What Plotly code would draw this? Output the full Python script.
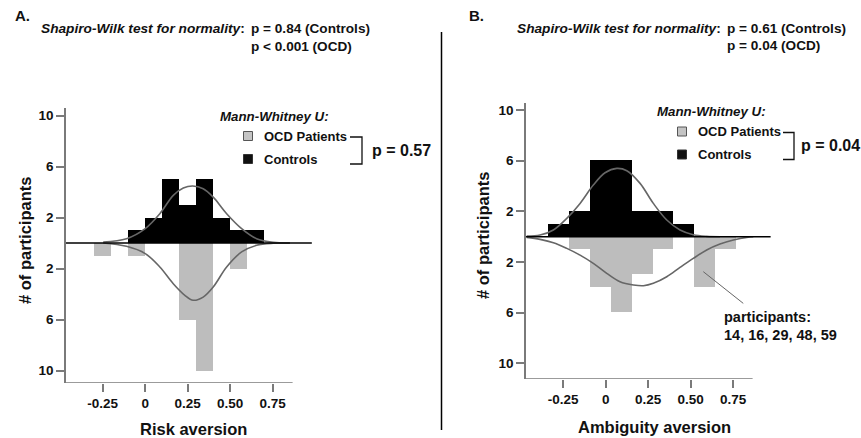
import plotly.graph_objects as go

W, H = 861, 438
FONT = "Liberation Sans"

# ---------------- data ----------------
# Panel A: risk aversion histograms (bin edges + counts)
a_ctrl_edges = [-0.1, 0.0, 0.1, 0.2, 0.3, 0.4, 0.5, 0.6, 0.7]
a_ctrl_counts = [1, 2, 5, 3, 5, 2, 1, 1]
a_ocd_edges = [-0.3, -0.2, -0.1, 0.0, 0.1, 0.2, 0.3, 0.4, 0.5, 0.6]
a_ocd_counts = [1, 0, 1, 0, 0, 6, 10, 0, 2]

# Panel B: ambiguity aversion histograms
b_edges = [-0.337, -0.214, -0.092, 0.031, 0.153, 0.276, 0.398, 0.521, 0.643, 0.766]
b_ctrl_counts = [1, 2, 6, 6, 2, 2, 1, 0, 0]
b_ocd_counts = [0, 1, 4, 6, 3, 1, 0, 4, 1]

# fitted normal curves
a_ctrl_curve_x = [-0.247, -0.11, 0.0, 0.086, 0.165, 0.224, 0.279, 0.341, 0.40, 0.479, 0.567, 0.655, 0.753, 0.851]
a_ctrl_curve_y = [0.08, 0.34, 1.13, 2.3, 3.74, 4.31, 4.47, 4.26, 3.6, 2.3, 1.13, 0.34, 0.05, 0.0]
a_ocd_curve_x = [-0.247, -0.11, 0.0, 0.086, 0.165, 0.233, 0.282, 0.341, 0.40, 0.479, 0.567, 0.655, 0.753, 0.851]
a_ocd_curve_y = [0.0, 0.26, 0.83, 1.88, 3.19, 4.1, 4.49, 4.24, 3.45, 1.88, 0.7, 0.18, 0.02, 0.0]

b_ctrl_curve_x = [-0.465, -0.386, -0.308, -0.229, -0.151, -0.073, -0.004, 0.065, 0.124, 0.202, 0.28, 0.359, 0.437, 0.515, 0.594, 0.672]
b_ctrl_curve_y = [0.05, 0.13, 0.53, 1.45, 2.63, 4.08, 5.05, 5.39, 5.21, 4.21, 2.63, 1.32, 0.53, 0.16, 0.03, 0.0]
b_ocd_curve_x = [-0.465, -0.386, -0.308, -0.229, -0.151, -0.073, 0.006, 0.084, 0.163, 0.222, 0.28, 0.359, 0.437, 0.515, 0.594, 0.672, 0.751, 0.829, 0.868]
b_ocd_curve_y = [0.05, 0.21, 0.47, 0.92, 1.45, 2.1, 2.89, 3.55, 3.81, 3.87, 3.68, 3.16, 2.42, 1.71, 1.05, 0.58, 0.26, 0.05, 0.0]

x_tick_vals = [-0.25, 0, 0.25, 0.5, 0.75]
x_tick_text = ["-0.25", "0", "0.25", "0.50", "0.75"]
y_tick_vals = [10, 6, 2, -2, -6, -10]
y_tick_text = ["10", "6", "2", "2", "6", "10"]

CTRL_COLOR = "#000000"
OCD_COLOR = "#bdbdbd"
CURVE_COLOR = "#666666"
AXIS_COLOR = "#7a7a7a"


def centers(edges):
    return [(edges[i] + edges[i + 1]) / 2 for i in range(len(edges) - 1)]


def widths(edges):
    return [edges[i + 1] - edges[i] for i in range(len(edges) - 1)]


def px(x):
    return x / W


def py(y):
    return 1 - y / H


fig = go.Figure()

# ---- Panel A ----
fig.add_trace(go.Bar(x=centers(a_ctrl_edges), y=a_ctrl_counts, width=widths(a_ctrl_edges),
                     marker=dict(color=CTRL_COLOR, line=dict(width=0)), xaxis="x", yaxis="y",
                     name="Controls", showlegend=False))
fig.add_trace(go.Bar(x=centers(a_ocd_edges), y=[-c for c in a_ocd_counts], width=widths(a_ocd_edges),
                     marker=dict(color=OCD_COLOR, line=dict(width=0)), xaxis="x", yaxis="y",
                     name="OCD Patients", showlegend=False))
fig.add_trace(go.Scatter(x=a_ctrl_curve_x, y=a_ctrl_curve_y, mode="lines", line=dict(color=CURVE_COLOR, width=1.6, shape="spline"),
                         xaxis="x", yaxis="y", showlegend=False))
fig.add_trace(go.Scatter(x=a_ocd_curve_x, y=[-v for v in a_ocd_curve_y], mode="lines", line=dict(color=CURVE_COLOR, width=1.6, shape="spline"),
                         xaxis="x", yaxis="y", showlegend=False))

# ---- Panel B ----
fig.add_trace(go.Bar(x=centers(b_edges), y=b_ctrl_counts, width=widths(b_edges),
                     marker=dict(color=CTRL_COLOR, line=dict(width=0)), xaxis="x2", yaxis="y2",
                     name="Controls", showlegend=False))
fig.add_trace(go.Bar(x=centers(b_edges), y=[-c for c in b_ocd_counts], width=widths(b_edges),
                     marker=dict(color=OCD_COLOR, line=dict(width=0)), xaxis="x2", yaxis="y2",
                     name="OCD Patients", showlegend=False))
fig.add_trace(go.Scatter(x=b_ctrl_curve_x, y=b_ctrl_curve_y, mode="lines", line=dict(color=CURVE_COLOR, width=1.6, shape="spline"),
                         xaxis="x2", yaxis="y2", showlegend=False))
fig.add_trace(go.Scatter(x=b_ocd_curve_x, y=[-v for v in b_ocd_curve_y], mode="lines", line=dict(color=CURVE_COLOR, width=1.6, shape="spline"),
                         xaxis="x2", yaxis="y2", showlegend=False))

tickfont = dict(family=FONT, size=13.5, color="#111111", weight="bold")

A_XR = [-0.466, 1.0]
A_YR = [-10.98, 10.59]
B_XR = [-0.469, 1.0]
B_YR = [-11.23, 10.53]

xcommon = dict(showgrid=False, zeroline=False, showline=False, ticks="outside", ticklen=8, tickwidth=1.5,
               tickcolor=AXIS_COLOR, tickvals=x_tick_vals, ticktext=x_tick_text, tickfont=tickfont, fixedrange=True)
ycommon = dict(showgrid=False, zeroline=False, showline=True, linecolor=AXIS_COLOR, linewidth=1.5, ticks="outside",
               ticklen=8, tickwidth=1.5, tickcolor=AXIS_COLOR, tickvals=y_tick_vals, ticktext=y_tick_text,
               tickfont=tickfont, fixedrange=True)

fig.update_layout(
    width=W, height=H, margin=dict(l=0, r=0, t=0, b=0),
    paper_bgcolor="white", plot_bgcolor="white",
    barmode="overlay", bargap=0,
    font=dict(family=FONT, color="#111111"),
    xaxis=dict(domain=[px(66), px(66 + (A_XR[1] - A_XR[0]) * 170)], range=A_XR, anchor="y", **xcommon),
    yaxis=dict(domain=[py(383), py(108)], range=A_YR, anchor="x", **ycommon),
    xaxis2=dict(domain=[px(526), px(526 + (B_XR[1] - B_XR[0]) * 170)], range=B_XR, anchor="y2", **xcommon),
    yaxis2=dict(domain=[py(379), py(103.3)], range=B_YR, anchor="x2", **ycommon),
)

shapes = []
# bottom axis lines (stop before the plot area end)
shapes.append(dict(type="line", xref="x", yref="y", x0=A_XR[0], x1=0.867, y0=A_YR[0], y1=A_YR[0],
                   line=dict(color=AXIS_COLOR, width=1.5)))
shapes.append(dict(type="line", xref="x2", yref="y2", x0=B_XR[0], x1=0.864, y0=B_YR[0], y1=B_YR[0],
                   line=dict(color=AXIS_COLOR, width=1.5)))
# zero baselines
shapes.append(dict(type="line", xref="x", yref="y", x0=A_XR[0], x1=0.98, y0=0, y1=0,
                   line=dict(color="#000000", width=1.6), layer="above"))
shapes.append(dict(type="line", xref="x2", yref="y2", x0=B_XR[0], x1=0.97, y0=0, y1=0,
                   line=dict(color="#000000", width=1.6), layer="above"))
# pointer line panel B
shapes.append(dict(type="line", xref="x2", yref="y2", x0=0.574, y0=-2.76, x1=0.809, y1=-5.26,
                   line=dict(color="#666666", width=1)))
# separator
shapes.append(dict(type="line", xref="paper", yref="paper", x0=px(441.5), x1=px(441.5), y0=py(32), y1=py(430),
                   line=dict(color="#000000", width=1.5)))

annotations = []


def text(x, y, s, size, xanchor="left", angle=0, color="#111111"):
    annotations.append(dict(xref="paper", yref="paper", x=px(x), y=py(y), text=s, showarrow=False,
                            xanchor=xanchor, yanchor="middle", textangle=angle,
                            font=dict(family=FONT, size=size, color=color)))


def legend_block(sq_x, y_title, y_ocd, y_ctrl, title_x, text_x, br_x0, br_x1, p_x, p_text):
    text(title_x, y_title, "<b><i>Mann-Whitney U:</i></b>", 13.3)
    s = 9
    shapes.append(dict(type="rect", xref="paper", yref="paper", x0=px(sq_x - s / 2), x1=px(sq_x + s / 2),
                       y0=py(y_ocd + s / 2), y1=py(y_ocd - s / 2), fillcolor="#c4c4c4",
                       line=dict(color="#555555", width=1)))
    shapes.append(dict(type="rect", xref="paper", yref="paper", x0=px(sq_x - s / 2), x1=px(sq_x + s / 2),
                       y0=py(y_ctrl + s / 2), y1=py(y_ctrl - s / 2), fillcolor="#111111",
                       line=dict(color="#333333", width=1)))
    text(text_x, y_ocd, "<b>OCD Patients</b>", 13)
    text(text_x, y_ctrl, "<b>Controls</b>", 13)
    yt, yb = y_ocd + 1, y_ctrl + 5
    path = f"M {px(br_x0)},{py(yt)} L {px(br_x1)},{py(yt)} L {px(br_x1)},{py(yb)} L {px(br_x0)},{py(yb)}"
    shapes.append(dict(type="path", xref="paper", yref="paper", path=path, line=dict(color="#111111", width=1.3)))
    text(p_x, (yt + yb) / 2, f"<b>{p_text}</b>", 16)


# Panel headers
text(13, 15, "<b>A.</b>", 15)
text(247, 28.5, "<b><i>Shapiro-Wilk test for normality</i>:</b>", 13.7, xanchor="right")
text(249, 28.5, "<b>p = 0.84 (Controls)</b>", 13.6)
text(249, 46.5, "<b>p &lt; 0.001 (OCD)</b>", 13.6)

text(467, 15, "<b>B.</b>", 15)
text(723, 28.5, "<b><i>Shapiro-Wilk test for normality</i>:</b>", 13.7, xanchor="right")
text(725, 28.5, "<b>p = 0.61 (Controls)</b>", 13.6)
text(725, 45.5, "<b>p = 0.04 (OCD)</b>", 13.6)

# Legends
legend_block(248, 116, 136, 159, 218, 262, 350, 362, 370, "p = 0.57")
legend_block(682, 111, 131.5, 154.5, 655, 696, 783, 794, 799, "p = 0.04")

# axis titles
text(193, 429, "<b>Risk aversion</b>", 16.5, xanchor="center")
text(654, 427, "<b>Ambiguity aversion</b>", 16.5, xanchor="center")
text(25, 241, "<b># of participants</b>", 16.5, xanchor="center", angle=-90)
text(483, 236, "<b># of participants</b>", 16.5, xanchor="center", angle=-90)

# participants note
text(722, 317, "<b>participants:</b>", 14.5)
text(722, 335, "<b>14, 16, 29, 48, 59</b>", 14.5)

fig.update_layout(shapes=shapes, annotations=annotations)

fig.write_html("out.html", config={"displayModeBar": False},
               post_script="document.body.style.margin='0';document.body.style.overflow='hidden';")
